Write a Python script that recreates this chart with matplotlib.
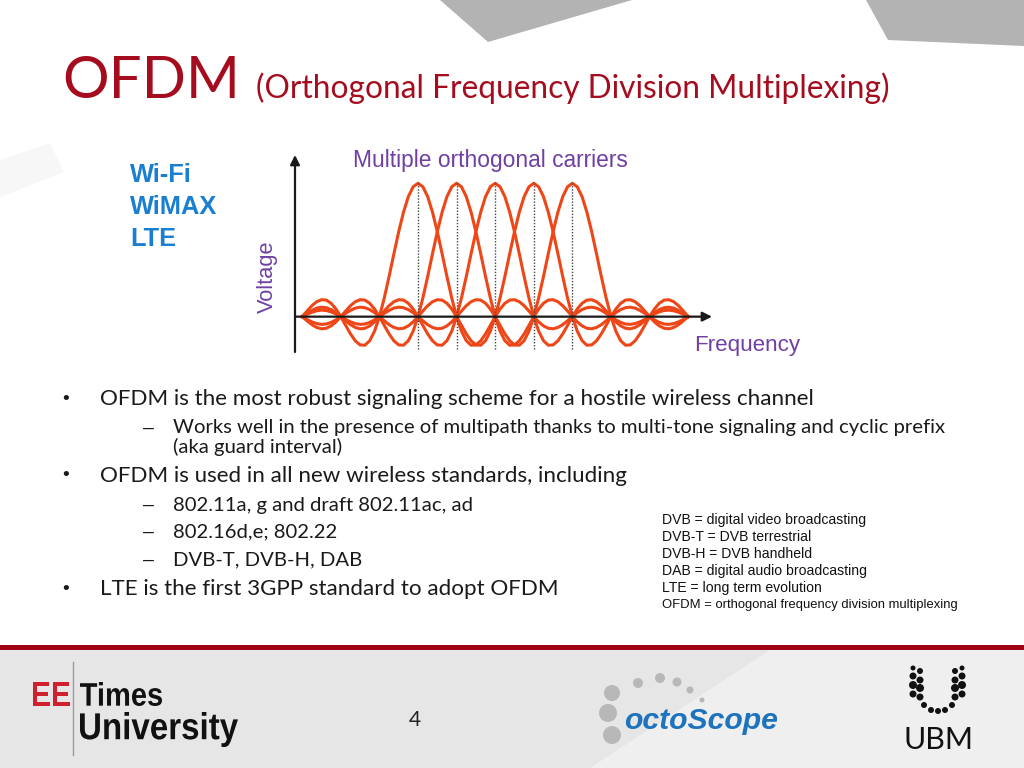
#OFDM slide: sub-carrier spectrum plus the slide text around it.
import matplotlib
matplotlib.use("Agg")
import matplotlib.pyplot as plt
import numpy as np
from matplotlib.patches import Polygon, Rectangle, Circle, PathPatch
from matplotlib.textpath import TextPath
from matplotlib.font_manager import FontProperties
from matplotlib.transforms import Affine2D

# carrier shape, one side, every eighth of a carrier spacing
shape_offsets = [i / 8 for i in range(57)]
shape_values = [1.000, 0.974, 0.900, 0.784, 0.637, 0.471, 0.300, 0.139,
                0.0, -0.108, -0.180, -0.214, -0.212, -0.181, -0.129, -0.065,
                0.0, 0.057, 0.100, 0.124, 0.127, 0.112, 0.082, 0.042,
                0.0, -0.039, -0.069, -0.087, -0.091, -0.081, -0.060, -0.031,
                0.0, 0.030, 0.053, 0.067, 0.071, 0.064, 0.047, 0.025,
                0.0, -0.024, -0.043, -0.055, -0.058, -0.052, -0.039, -0.021,
                0.0, 0.020, 0.036, 0.046, 0.049, 0.044, 0.033, 0.018,
                0.0]
carrier_centers = [0, 1, 2, 3, 4]
freq_window = [-3, 7]

standards = ["Wi-Fi", "WiMAX", "LTE"]
bullets = [
    (0, "OFDM is the most robust signaling scheme for a hostile wireless channel"),
    (1, "Works well in the presence of multipath thanks to multi-tone signaling and cyclic prefix"),
    (2, "(aka guard interval)"),
    (0, "OFDM is used in all new wireless standards, including"),
    (1, "802.11a, g and draft 802.11ac, ad"),
    (1, "802.16d,e; 802.22"),
    (1, "DVB-T, DVB-H, DAB"),
    (0, "LTE is the first 3GPP standard to adopt OFDM"),
]
bullet_y = [399, 428, 447, 476, 505, 532, 560, 589]
abbrevs = ["DVB = digital video broadcasting", "DVB-T = DVB terrestrial",
           "DVB-H = DVB handheld", "DAB = digital audio broadcasting",
           "LTE = long term evolution",
           "OFDM = orthogonal frequency division multiplexing"]

RED = "#A50D1F"
PURPLE = "#6F3FA5"
BLUE = "#1A7FD0"
ORANGE = "#EE4616"
GILL = ["Lato", "DejaVu Sans"]
ARIAL = ["Liberation Sans", "DejaVu Sans"]

fig = plt.figure(figsize=(10.24, 7.68), dpi=100)
fig.patch.set_facecolor("white")
bg = fig.add_axes([0, 0, 1, 1])
bg.set_xlim(0, 1024)
bg.set_ylim(768, 0)
bg.axis("off")
renderer = fig.canvas.get_renderer()


def fit(t, width=None, height=None):
    bb = t.get_window_extent(renderer)
    if width is not None:
        t.set_fontsize(t.get_fontsize() * width / bb.width)
    else:
        t.set_fontsize(t.get_fontsize() * height / bb.height)
    return t.get_fontsize()


def boxed_text(s, x0, x1, y_top, y_bottom, color, weight="bold"):
    # text squeezed into an ink box, to mimic the narrow logo lettering
    path = TextPath((0, 0), s, size=20, prop=FontProperties(family="Liberation Sans", weight=weight))
    (xa, ya), (xb, yb) = path.get_extents().get_points()
    tr = (Affine2D().translate(-xa, -ya)
          .scale((x1 - x0) / (xb - xa), -(y_bottom - y_top) / (yb - ya))
          .translate(x0, y_bottom))
    bg.add_patch(PathPatch(tr.transform_path(path), color=color, lw=0))


# background decoration
bg.add_patch(Polygon([[440, 0], [632, 0], [488, 42]], color="#B3B3B3", lw=0))
bg.add_patch(Polygon([[866, 0], [1024, 0], [1024, 46], [888, 40]], color="#B3B3B3", lw=0))
bg.add_patch(Polygon([[0, 160], [50, 143], [64, 172], [0, 197]], color="#F7F7F7", lw=0))
bg.add_patch(Rectangle((0, 650), 1024, 118, color="#E6E6E6", lw=0))
bg.add_patch(Polygon([[590, 768], [770, 650], [1024, 650], [1024, 768]], color="#EFEFEF", lw=0))
bg.add_patch(Rectangle((0, 645), 1024, 5, color="#A00014", lw=0))

# title
t = bg.text(62, 98, "OFDM", color=RED, family=GILL, fontsize=40, va="baseline")
fit(t, 178)
t = bg.text(256, 98, "(Orthogonal Frequency Division Multiplexing)", color=RED,
            family=GILL, fontsize=22, va="baseline")
fit(t, 632)

# standards list
ts = [bg.text(130, 175 + 32 * i, s, color=BLUE, family=ARIAL, weight="bold",
              fontsize=17, va="center") for i, s in enumerate(standards)]
size = fit(ts[1], 87)
for tt in ts:
    tt.set_fontsize(size)

# bullets
x_mark = [62, 143, 143]
x_text = [100, 173, 173]
texts = []
for (lvl, s), y in zip(bullets, bullet_y):
    if lvl == 0:
        bg.text(x_mark[lvl], y, "\u2022", family=ARIAL, fontsize=14, va="center", color="#1A1A1A")
    elif lvl == 1:
        bg.text(x_mark[lvl], y, "\u2013", family=ARIAL, fontsize=14, va="center", color="#1A1A1A")
    texts.append(bg.text(x_text[lvl], y, s, family=GILL, fontsize=14, va="center", color="#1A1A1A"))
main_size = fit(texts[0], 715)
sub_size = fit(texts[1], 775)
for (lvl, s), tt in zip(bullets, texts):
    tt.set_fontsize(main_size if lvl == 0 else sub_size)

# abbreviations
ab = [bg.text(662, 520 + 17 * i, s, family=ARIAL, fontsize=9, va="center", color="#111111")
      for i, s in enumerate(abbrevs)]
size = fit(ab[0], 204)
for tt in ab[:-1]:
    tt.set_fontsize(size)
fit(ab[-1], 296)

# footer
bg.text(415, 720, "4", family=GILL, fontsize=15, va="center", ha="center", color="#222222")
bg.plot([73, 73], [662, 755], color="#9A9A9A", lw=1)
boxed_text("EE", 33, 70, 682, 706, "#D0202E")
boxed_text("Times", 80, 162, 682, 706, "#111111")
boxed_text("University", 80, 238, 712, 747, "#111111")
for (cx, cy, r) in [(612, 693, 8), (608, 713, 9), (612, 735, 9), (638, 683, 5),
                    (660, 678, 5), (677, 682, 4.5), (690, 690, 3.5), (702, 700, 2.5)]:
    bg.add_patch(Circle((cx, cy), r, color="#B8B8B8", lw=0))
t = bg.text(624, 721, "octoScope", family=ARIAL, weight="bold", style="italic",
            fontsize=18, color="#1E73BE", va="center")
fit(t, 154)
t = bg.text(938, 740, "UBM", family=GILL, fontsize=22, color="#111111", va="center", ha="center")
fit(t, 70)
ubm_dots = [(913, 668, 2.5), (920, 671, 3), (913, 676, 3.5), (920, 680, 3.5), (913, 685, 4),
            (920, 688, 4), (913, 694, 3.5), (920, 697, 3.5), (962, 668, 2.5), (955, 671, 3),
            (962, 676, 3.5), (955, 680, 3.5), (962, 685, 4), (955, 688, 4), (962, 694, 3.5),
            (955, 697, 3.5), (924, 705, 3), (931, 710, 3), (938, 711, 3), (945, 710, 3),
            (952, 705, 3)]
for (cx, cy, r) in ubm_dots:
    bg.add_patch(Circle((cx, cy), r, color="#111111", lw=0))

# chart
ax = fig.add_axes([295 / 1024, 1 - 352 / 768, 417 / 1024, 197 / 768])
ax.set_xlim(-3.187, 7.617)
ax.set_ylim(-0.265, 1.212)
ax.axis("off")
ax.patch.set_alpha(0)

offsets = np.array([-o for o in shape_offsets[:0:-1]] + shape_offsets)
values = np.array(shape_values[:0:-1] + shape_values)
for c in carrier_centers:
    x = c + offsets
    keep = (x >= freq_window[0]) & (x <= freq_window[1])
    ax.plot(x[keep], values[keep], color=ORANGE, lw=2.2, zorder=2)
ax.vlines(carrier_centers, -0.24, 1.0, colors="#444444", linestyles=(0, (1, 1.2)),
          lw=1, zorder=3)

x0, x1 = ax.get_xlim()
y0, y1 = ax.get_ylim()
arrow = dict(arrowstyle="-|>", color="#1A1A1A", lw=1.6, mutation_scale=14,
             shrinkA=0, shrinkB=0)
ax.annotate("", xy=(x1, 0), xytext=(x0, 0), arrowprops=arrow, annotation_clip=False, zorder=4)
ax.annotate("", xy=(x0, y1), xytext=(x0, y0), arrowprops=arrow, annotation_clip=False, zorder=4)

t = bg.text(490, 161, "Multiple orthogonal carriers", family=ARIAL, fontsize=15,
            color=PURPLE, ha="center", va="center")
fit(t, 275)
t = bg.text(267, 277, "Voltage", family=ARIAL, fontsize=15, color=PURPLE,
            rotation=90, ha="center", va="center")
fit(t, height=73)
t = bg.text(694, 346, "Frequency", family=ARIAL, fontsize=15, color=PURPLE, va="center")
fit(t, 106)

fig.savefig("out.png", dpi=100)
